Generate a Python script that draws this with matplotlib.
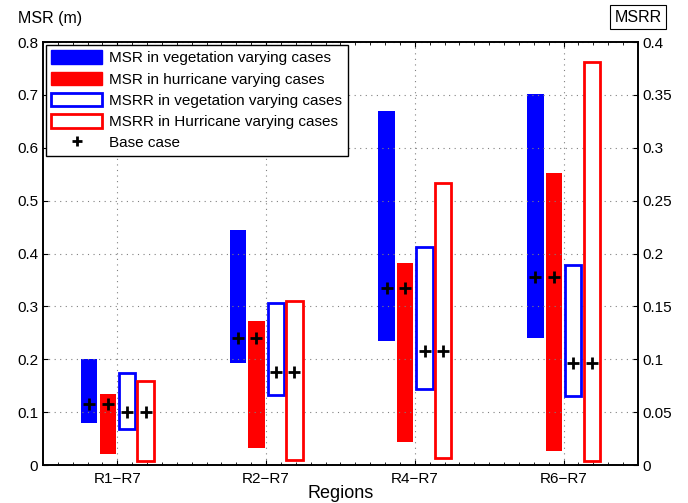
import numpy as np
import matplotlib.pyplot as plt
from matplotlib.patches import Patch
from matplotlib.lines import Line2D
from matplotlib.ticker import AutoMinorLocator

plt.rcParams['font.family'] = ['Liberation Sans', 'DejaVu Sans']

regions = ['R1\u2212R7', 'R2\u2212R7', 'R4\u2212R7', 'R6\u2212R7']

# MSR (m), left axis: ranges and base case
msr_veg_low = [0.080, 0.193, 0.234, 0.241]
msr_veg_high = [0.200, 0.444, 0.669, 0.701]
msr_hur_low = [0.020, 0.032, 0.044, 0.027]
msr_hur_high = [0.134, 0.272, 0.383, 0.553]
msr_base = [0.115, 0.240, 0.334, 0.355]

# MSRR, right axis: ranges and base case
msrr_veg_low = [0.034, 0.066, 0.072, 0.065]
msrr_veg_high = [0.087, 0.153, 0.206, 0.189]
msrr_hur_low = [0.004, 0.005, 0.007, 0.004]
msrr_hur_high = [0.079, 0.155, 0.267, 0.381]
msrr_base = [0.050, 0.088, 0.108, 0.096]

x = np.arange(1, len(regions) + 1)
w = 0.11
offs = [-0.19, -0.065, 0.065, 0.19]

fig = plt.figure(figsize=(6.88, 5.03), dpi=100)
ax = fig.add_axes([0.0625, 0.0755, 0.8648, 0.841])
ax2 = ax.twinx()

lo, hi = np.array(msr_veg_low), np.array(msr_veg_high)
ax.bar(x + offs[0], hi - lo, w, bottom=lo, color='blue', linewidth=0)
lo, hi = np.array(msr_hur_low), np.array(msr_hur_high)
ax.bar(x + offs[1], hi - lo, w, bottom=lo, color='red', linewidth=0)
ax.plot(x + offs[0], msr_base, 'k+', ms=9, mew=2)
ax.plot(x + offs[1], msr_base, 'k+', ms=9, mew=2)

lo, hi = np.array(msrr_veg_low), np.array(msrr_veg_high)
ax2.bar(x + offs[2], hi - lo, w, bottom=lo, facecolor='white', edgecolor='blue', linewidth=2)
lo, hi = np.array(msrr_hur_low), np.array(msrr_hur_high)
ax2.bar(x + offs[3], hi - lo, w, bottom=lo, facecolor='white', edgecolor='red', linewidth=2)
ax2.plot(x + offs[2], msrr_base, 'k+', ms=9, mew=2)
ax2.plot(x + offs[3], msrr_base, 'k+', ms=9, mew=2)

ax.set_xlim(0.5, 4.5)
ax.set_ylim(0, 0.8)
ax2.set_ylim(0, 0.4)
ax.set_xticks(x)
ax.set_xticklabels(regions)
ax.set_yticks(np.arange(0, 0.81, 0.1))
ax.set_yticklabels(['0'] + ['%.1f' % v for v in np.arange(0.1, 0.81, 0.1)])
ax2.set_yticks(np.arange(0, 0.41, 0.05))
ax2.set_yticklabels(['0', '0.05', '0.1', '0.15', '0.2', '0.25', '0.3', '0.35', '0.4'])
ax.xaxis.set_minor_locator(AutoMinorLocator(10))
ax.tick_params(axis='both', which='both', direction='in', labelsize=11, top=True)
ax.tick_params(axis='x', which='minor', length=2)
ax.tick_params(axis='x', pad=5)
ax2.tick_params(axis='y', direction='in', labelsize=11)
ax.grid(True, linestyle=(0, (1, 4)), color='gray', linewidth=0.8)
for a in (ax, ax2):
    for s in a.spines.values():
        s.set_linewidth(1.2)

ax.set_xlabel('Regions', fontsize=13, labelpad=-1)
fig.text(0.026, 0.955, 'MSR (m)', fontsize=11.5)
fig.text(0.893, 0.957, 'MSRR', fontsize=11.5,
         bbox=dict(facecolor='white', edgecolor='black', linewidth=0.8, pad=3))

handles = [
    Patch(facecolor='blue', edgecolor='blue'),
    Patch(facecolor='red', edgecolor='red'),
    Patch(facecolor='white', edgecolor='blue', linewidth=2),
    Patch(facecolor='white', edgecolor='red', linewidth=2),
    Line2D([], [], color='k', marker='+', linestyle='none', ms=7, mew=2),
]
labels = ['MSR in vegetation varying cases', 'MSR in hurricane varying cases',
          'MSRR in vegetation varying cases', 'MSRR in Hurricane varying cases',
          'Base case']
leg = ax2.legend(handles, labels, loc='upper left', fontsize=11, fancybox=False,
                 edgecolor='black', framealpha=1, handlelength=3.3, handleheight=1.0,
                 borderaxespad=0.2, labelspacing=0.4, handletextpad=0.5, borderpad=0.35)
leg.get_frame().set_linewidth(1.0)

fig.savefig('out.png', dpi=100)
